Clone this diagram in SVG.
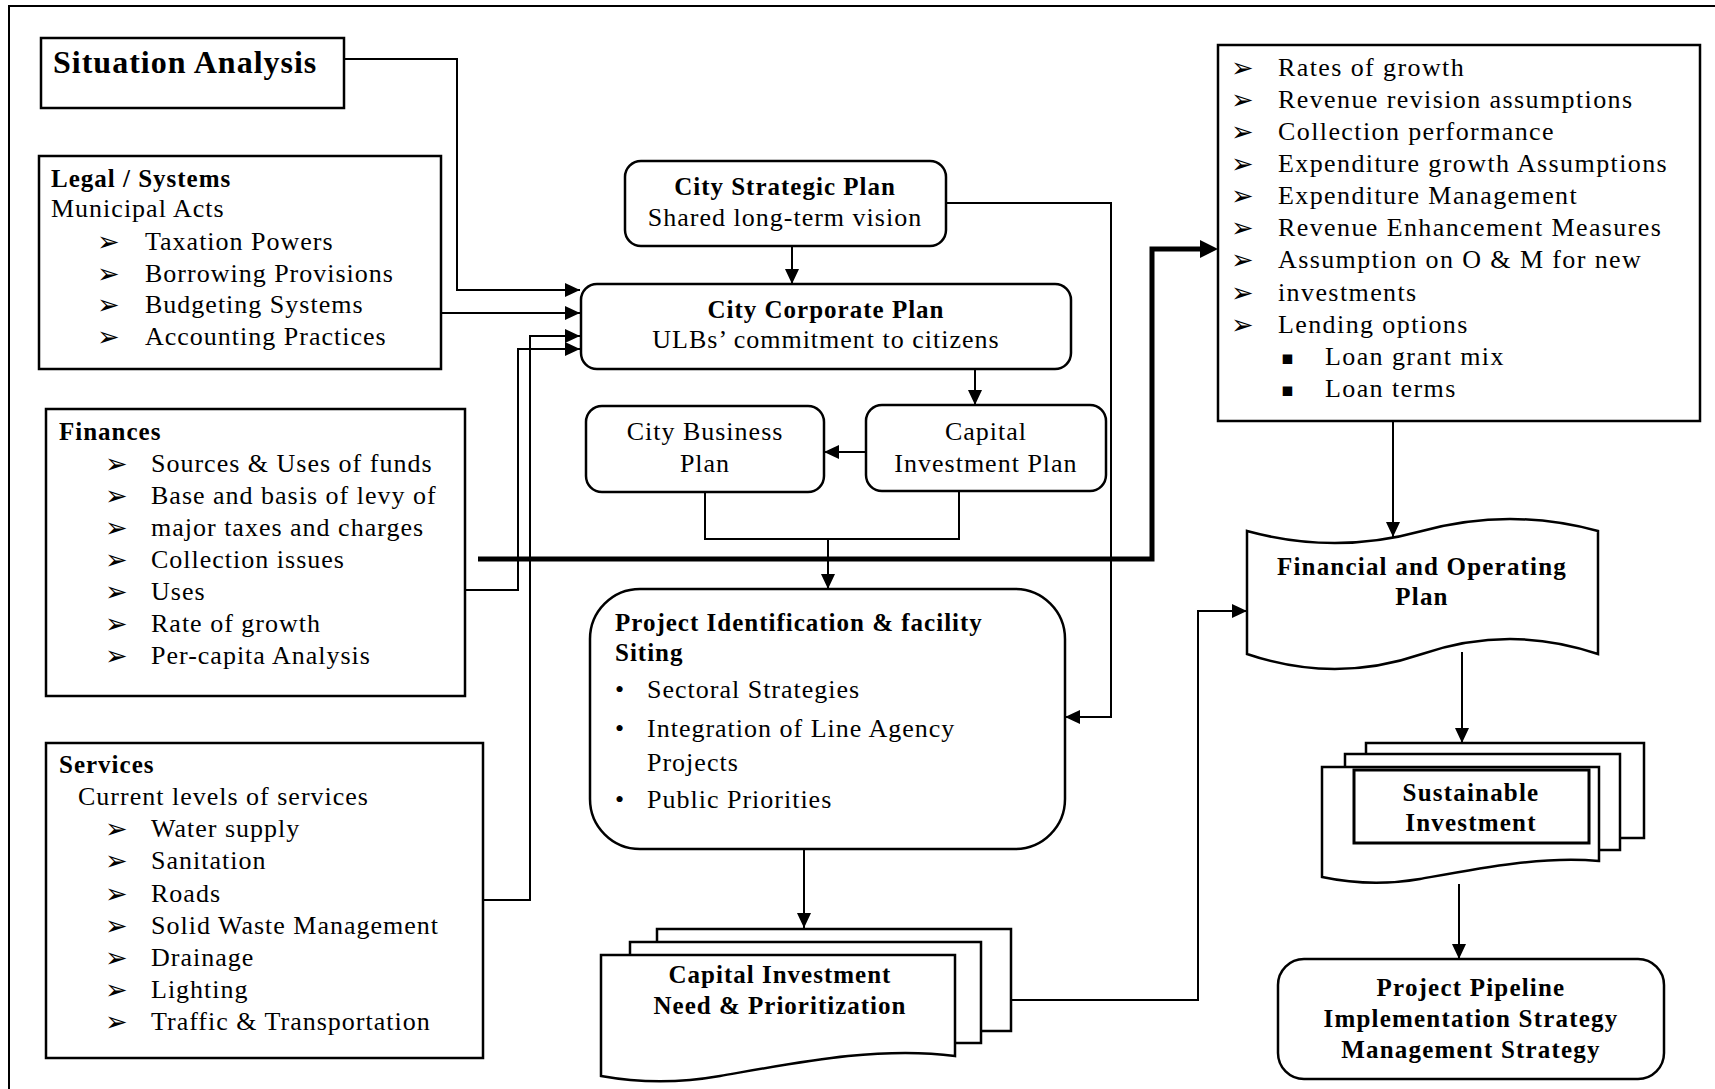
<svg xmlns="http://www.w3.org/2000/svg" width="1715" height="1089" viewBox="0 0 1715 1089">
<defs>
<style>
.box{fill:#fff;stroke:#000;stroke-width:2.5}
.line{fill:none;stroke:#000;stroke-width:2}
.thick{fill:none;stroke:#000;stroke-width:5}
.t{font-family:"Liberation Serif",serif;font-size:26px;letter-spacing:1px;fill:#000}
.b{font-weight:bold;font-size:25px}
.c{text-anchor:middle}
.w{letter-spacing:1.4px}
.bl{font-family:"DejaVu Sans",sans-serif;font-size:27px;fill:#000}
.sq{font-family:"DejaVu Sans",sans-serif;font-size:19px;fill:#000}
</style>
<marker id="ah" markerUnits="userSpaceOnUse" markerWidth="16" markerHeight="14" refX="15" refY="7" orient="auto" viewBox="0 0 16 14"><path d="M0,0 L15,7 L0,14 Z" fill="#000"/></marker>
<marker id="ahT" markerUnits="userSpaceOnUse" markerWidth="18" markerHeight="18" refX="5" refY="9" orient="auto" viewBox="0 0 18 18"><path d="M0,0 L18,9 L0,18 Z" fill="#000"/></marker>
</defs>
<rect width="1715" height="1089" fill="#fff"/>
<g id="frame"><rect x="9" y="6" width="1730" height="1110" fill="none" stroke="#000" stroke-width="2"/></g>

<g id="situation">
<rect class="box" x="41" y="38" width="303" height="70"/>
<text class="t b" x="53" y="73" style="font-size:32px">Situation Analysis</text>
</g>

<g id="legal">
<rect class="box" x="39" y="156" width="402" height="213"/>
<text class="t b" x="51" y="187">Legal / Systems</text>
<text class="t" x="51" y="217">Municipal Acts</text>
<text class="bl" x="97" y="251">➢</text><text class="t" x="145" y="250">Taxation Powers</text>
<text class="bl" x="97" y="283">➢</text><text class="t" x="145" y="282">Borrowing Provisions</text>
<text class="bl" x="97" y="314">➢</text><text class="t" x="145" y="313">Budgeting Systems</text>
<text class="bl" x="97" y="346">➢</text><text class="t" x="145" y="345">Accounting Practices</text>
</g>

<g id="finances">
<rect class="box" x="46" y="409" width="419" height="287"/>
<text class="t b" x="59" y="440">Finances</text>
<text class="bl" x="105" y="473">➢</text><text class="t" x="151" y="472">Sources &amp; Uses of funds</text>
<text class="bl" x="105" y="505">➢</text><text class="t" x="151" y="504">Base and basis of levy of</text>
<text class="bl" x="105" y="537">➢</text><text class="t" x="151" y="536">major taxes and charges</text>
<text class="bl" x="105" y="569">➢</text><text class="t" x="151" y="568">Collection issues</text>
<text class="bl" x="105" y="601">➢</text><text class="t" x="151" y="600">Uses</text>
<text class="bl" x="105" y="633">➢</text><text class="t" x="151" y="632">Rate of growth</text>
<text class="bl" x="105" y="665">➢</text><text class="t" x="151" y="664">Per-capita Analysis</text>
</g>

<g id="services">
<rect class="box" x="46" y="743" width="437" height="315"/>
<text class="t b" x="59" y="773">Services</text>
<text class="t" x="78" y="805">Current levels of services</text>
<text class="bl" x="105" y="838">➢</text><text class="t" x="151" y="837">Water supply</text>
<text class="bl" x="105" y="870">➢</text><text class="t" x="151" y="869">Sanitation</text>
<text class="bl" x="105" y="903">➢</text><text class="t" x="151" y="902">Roads</text>
<text class="bl" x="105" y="935">➢</text><text class="t" x="151" y="934">Solid Waste Management</text>
<text class="bl" x="105" y="967">➢</text><text class="t" x="151" y="966">Drainage</text>
<text class="bl" x="105" y="999">➢</text><text class="t" x="151" y="998">Lighting</text>
<text class="bl" x="105" y="1031">➢</text><text class="t" x="151" y="1030">Traffic &amp; Transportation</text>
</g>

<g id="strategic">
<rect class="box" x="625" y="161" width="321" height="85" rx="16"/>
<text class="t b c" x="785" y="195">City Strategic Plan</text>
<text class="t c" x="785" y="226">Shared long-term vision</text>
</g>

<g id="corporate">
<rect class="box" x="581" y="284" width="490" height="85" rx="16"/>
<text class="t b c" x="826" y="318">City Corporate Plan</text>
<text class="t c" x="826" y="348">ULBs’ commitment to citizens</text>
</g>

<g id="business">
<rect class="box" x="586" y="406" width="238" height="86" rx="16"/>
<text class="t c" x="705" y="440">City Business</text>
<text class="t c" x="705" y="472">Plan</text>
</g>

<g id="capital">
<rect class="box" x="866" y="405" width="240" height="86" rx="16"/>
<text class="t c" x="986" y="440">Capital</text>
<text class="t c" x="986" y="472">Investment Plan</text>
</g>

<g id="project">
<rect class="box" x="590" y="589" width="475" height="260" rx="50"/>
<text class="t b" x="615" y="631">Project Identification &amp; facility</text>
<text class="t b" x="615" y="661">Siting</text>
<text class="t" x="615" y="698">•</text><text class="t" x="647" y="698">Sectoral Strategies</text>
<text class="t" x="615" y="737">•</text><text class="t" x="647" y="737">Integration of Line Agency</text>
<text class="t" x="647" y="771">Projects</text>
<text class="t" x="615" y="808">•</text><text class="t" x="647" y="808">Public Priorities</text>
</g>

<g id="need">
<path class="box" d="M657,942 V929 H1011 V1031 H981"/>
<path class="box" d="M630,955 V942 H981 V1043 H955"/>
<path class="box" d="M601,955 H955 V1056 C880,1046 800,1062 720,1076 C680,1083 640,1083 601,1076 Z"/>
<text class="t b c" x="780" y="983">Capital Investment</text>
<text class="t b c" x="780" y="1014">Need &amp; Prioritization</text>
</g>

<g id="assumptions">
<rect class="box" x="1218" y="45" width="482" height="376"/>
<text class="bl" x="1231" y="77">➢</text><text class="t w" x="1278" y="76">Rates of growth</text>
<text class="bl" x="1231" y="109">➢</text><text class="t w" x="1278" y="108">Revenue revision assumptions</text>
<text class="bl" x="1231" y="141">➢</text><text class="t w" x="1278" y="140">Collection performance</text>
<text class="bl" x="1231" y="173">➢</text><text class="t w" x="1278" y="172">Expenditure growth Assumptions</text>
<text class="bl" x="1231" y="205">➢</text><text class="t w" x="1278" y="204">Expenditure Management</text>
<text class="bl" x="1231" y="237">➢</text><text class="t w" x="1278" y="236">Revenue Enhancement Measures</text>
<text class="bl" x="1231" y="269">➢</text><text class="t w" x="1278" y="268">Assumption on O &amp; M for new</text>
<text class="bl" x="1231" y="302">➢</text><text class="t w" x="1278" y="301">investments</text>
<text class="bl" x="1231" y="334">➢</text><text class="t w" x="1278" y="333">Lending options</text>
<text class="sq" x="1281" y="364">▪</text><text class="t w" x="1325" y="365">Loan grant mix</text>
<text class="sq" x="1281" y="396">▪</text><text class="t w" x="1325" y="397">Loan terms</text>
</g>

<g id="financial">
<path class="box" d="M1247,531 Q1335,555 1422,531 Q1510,507 1598,531 V654 Q1510,624 1422,654 Q1335,684 1247,654 Z"/>
<text class="t b c" x="1422" y="575" style="letter-spacing:1.2px">Financial and Operating</text>
<text class="t b c" x="1422" y="605" style="letter-spacing:1.2px">Plan</text>
</g>

<g id="sustainable">
<path class="box" d="M1366,754 V743 H1644 V838 H1620"/>
<path class="box" d="M1345,767 V754 H1620 V850 H1599"/>
<path class="box" d="M1322,767 H1599 V861 C1540,856 1480,868 1420,879 C1385,885 1355,884 1322,877 Z"/>
<rect x="1354" y="770" width="235" height="73" fill="#fff" stroke="#000" stroke-width="3"/>
<text class="t b c" x="1471" y="801" style="letter-spacing:1.2px">Sustainable</text>
<text class="t b c" x="1471" y="831" style="letter-spacing:1.2px">Investment</text>
</g>

<g id="pipeline">
<rect class="box" x="1278" y="959" width="386" height="120" rx="26"/>
<text class="t b c" x="1471" y="996" style="letter-spacing:1.2px">Project Pipeline</text>
<text class="t b c" x="1471" y="1027" style="letter-spacing:1.2px">Implementation Strategy</text>
<text class="t b c" x="1471" y="1058" style="letter-spacing:1.2px">Management Strategy</text>
</g>

<g id="connectors">
<path class="line" d="M344,59 H457 V290 H580" marker-end="url(#ah)"/>
<path class="line" d="M441,313 H580" marker-end="url(#ah)"/>
<path class="line" d="M483,900 H530 V336 H580" marker-end="url(#ah)"/>
<path class="line" d="M465,590 H518 V349 H580" marker-end="url(#ah)"/>
<path class="line" d="M792,246 V284" marker-end="url(#ah)"/>
<path class="line" d="M975,369 V405" marker-end="url(#ah)"/>
<path class="line" d="M866,452 H824" marker-end="url(#ah)"/>
<path class="line" d="M705,492 V539 H959 V491"/>
<path class="line" d="M828,539 V589" marker-end="url(#ah)"/>
<path class="line" d="M946,203 H1111 V717 H1065" marker-end="url(#ah)"/>
<path class="thick" d="M478,559 H1152 V249 H1205" marker-end="url(#ahT)"/>
<path class="line" d="M1393,421 V537" marker-end="url(#ah)"/>
<path class="line" d="M804,849 V928" marker-end="url(#ah)"/>
<path class="line" d="M1011,1000 H1198 V611 H1247" marker-end="url(#ah)"/>
<path class="line" d="M1462,652 V743" marker-end="url(#ah)"/>
<path class="line" d="M1459,884 V959" marker-end="url(#ah)"/>
</g>
</svg>
